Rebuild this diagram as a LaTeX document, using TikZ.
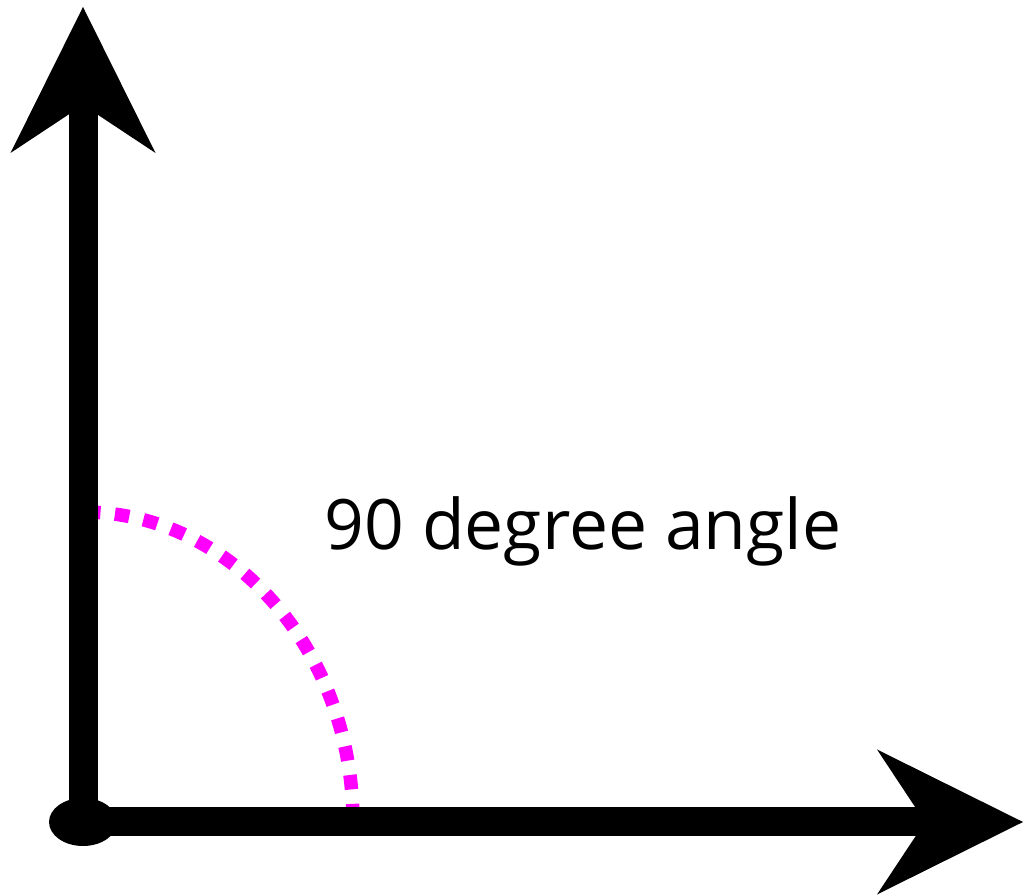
\documentclass[tikz,border=0pt]{standalone}
\usepackage{fontspec}
\setmainfont{Open Sans}
\usetikzlibrary{arrows.meta}
\definecolor{arcmagenta}{RGB}{255,0,255}
\begin{document}
\begin{tikzpicture}[>={Stealth[length=14.6mm, width=14.5mm, inset=4.8mm, line width=0pt]}]
\useasboundingbox (-0.83,-0.74) rectangle (9.40,8.22);
\coordinate (O) at (0,0);
\coordinate (xend) at (9.40,0);
\coordinate (yend) at (0,8.15);
\draw[arcmagenta, line width=1.35mm, dash pattern=on 1.45mm off 1.45mm, dash phase=2.6mm](0,3.10) arc[start angle=90, end angle=0, x radius=2.70, y radius=3.10];
\draw[->, line width=2.9mm](O)--(yend);
\draw[->, line width=2.9mm](O)--(xend);
\fill(O)ellipse[x radius=0.34, y radius=0.24];
\node[anchor=base, font=\fontsize{19.8}{24}\selectfont] (lbl) at (5.00,2.72) {90 degree angle};

\end{tikzpicture}
\end{document}
